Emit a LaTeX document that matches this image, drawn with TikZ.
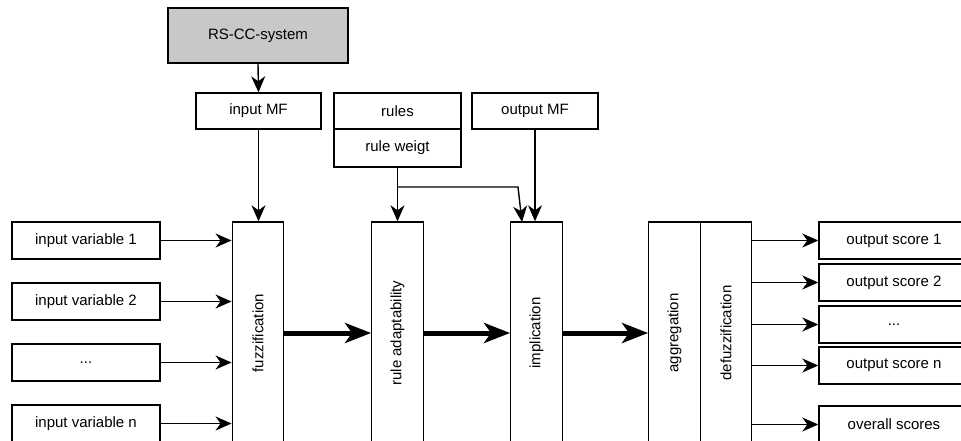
\documentclass[tikz,border=0pt]{standalone}
\usepackage{fontspec}
\setmainfont{Liberation Sans}
\usetikzlibrary{arrows.meta}
\definecolor{boxgray}{RGB}{200,200,200}
\tikzset{
  base/.style={draw, line width=1.4pt, inner sep=0pt, font=\fontsize{15}{17}\selectfont},
  hbox/.style={base, minimum width=148pt, minimum height=37pt},
  sbox/.style={base, minimum width=126pt, minimum height=36pt},
  vbox/.style={base, minimum width=51.5pt, minimum height=222pt},
  vtext/.style={rotate=90, inner sep=0pt, font=\fontsize{15}{17}\selectfont},
  thin/.style={line width=1.4pt, -{Stealth[length=16pt,width=14pt,inset=5pt]}},
  thick/.style={line width=5pt, -{Stealth[length=26pt,width=20pt,inset=7pt]}},
}
\begin{document}
\begin{tikzpicture}[x=1pt,y=-1pt]
\useasboundingbox (0,0) rectangle (961,441);
\clip (0,0) rectangle (961,441);
% top boxes
\node[base, fill=boxgray, minimum width=180pt, minimum height=55pt] (rscc) at (258,35.5) {RS-CC-system};
\node[sbox, minimum width=125pt] (imf) at (258.5,111) {input MF};
\node[sbox, minimum width=127pt] (rules) at (397.5,111) {rules};
\node[base, minimum width=127pt, minimum height=38pt] (rw) at (397.5,148) {rule weigt};
\node[sbox] (omf) at (535,111) {output MF};
% vertical process boxes
\node[vbox] (fuzz) at (258,333) {};
\node[vtext] (fuzzt) at (fuzz.center) {fuzzification};
\node[vbox] (radapt) at (397.5,333) {};
\node[vtext] (radaptt) at (radapt.center) {rule adaptability};
\node[vbox] (impl) at (536.5,333) {};
\node[vtext] (implt) at (impl.center) {implication};
\node[vbox] (aggr) at (674.5,333) {};
\node[vtext] (aggrt) at (aggr.center) {aggregation};
\node[vbox] (defuz) at (726,333) {};
\node[vtext] (defuzt) at (defuz.center) {defuzzification};
% input boxes
\node[hbox] (in1) at (86,240.5) {input variable 1};
\node[hbox] (in2) at (86,301.5) {input variable 2};
\node[hbox] (in3) at (86,362.5) {...};
\node[hbox] (in4) at (86,423.5) {input variable n};
% output boxes
\node[hbox, minimum width=150pt] (out1) at (894,240.5) {output score 1};
\node[hbox, minimum width=150pt] (out2) at (894,282.5) {output score 2};
\node[hbox, minimum width=150pt] (out3) at (894,324.5) {...};
\node[hbox, minimum width=150pt] (out4) at (894,365.5) {output score n};
\node[hbox, minimum width=150pt] (out5) at (894,424.5) {overall scores};
% connectors
\draw[thin] (rscc.south) -- (imf.north);
\draw[thin] (imf.south) -- (imf.south |- fuzz.north);
\draw[thin] (rw.south) -- (rw.south |- radapt.north);
\coordinate (j1) at (518,187);
\coordinate (j2) at (522,222);
\draw[thin] (rw.south |- j1) -- (j1) -- (j2);
\draw[thin] (omf.south) -- (omf.south |- impl.north);
\foreach \i in {1,2,3,4}{
  \draw[thin] (in\i.east) -- (in\i.east -| fuzz.west);
}
\foreach \i in {1,2,3,4,5}{
  \draw[thin] (out\i.west -| defuz.east) -- (out\i.west);
}
\draw[thick] (fuzz.east) -- (radapt.west);
\draw[thick] (radapt.east) -- (impl.west);
\draw[thick] (impl.east) -- (aggr.west);
\end{tikzpicture}
\end{document}
